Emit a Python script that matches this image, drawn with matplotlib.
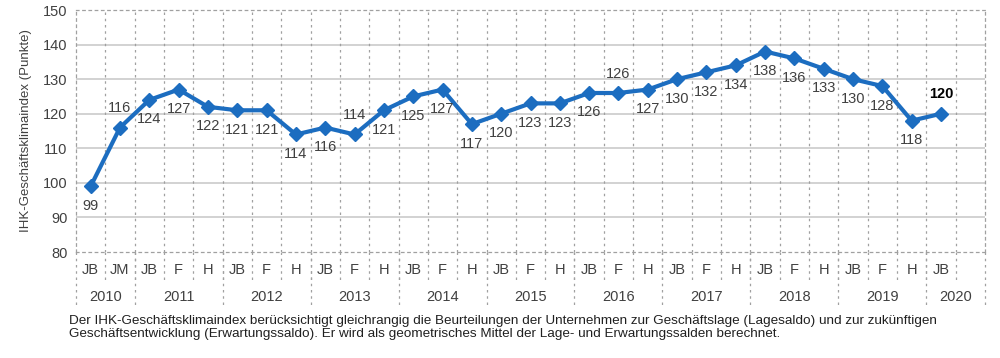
import matplotlib.pyplot as plt
import matplotlib.transforms as mtransforms
import numpy as np

plt.rcParams["font.family"] = ["Liberation Sans", "DejaVu Sans"]

# ---- data ----
periods = ["JB", "JM",
           "JB", "F", "H", "JB", "F", "H", "JB", "F", "H", "JB", "F", "H",
           "JB", "F", "H", "JB", "F", "H", "JB", "F", "H", "JB", "F", "H",
           "JB", "F", "H", "JB"]
years = ["2010", "2011", "2012", "2013", "2014", "2015", "2016",
         "2017", "2018", "2019", "2020"]
periods_per_year = [2, 3, 3, 3, 3, 3, 3, 3, 3, 3, 2]  # 2020 has one empty slot
index_values = [99, 116, 124, 127, 122, 121, 121, 114, 116, 114, 121, 125,
                127, 117, 120, 123, 123, 126, 126, 127, 130, 132, 134, 138,
                136, 133, 130, 128, 118, 120]

labels_above = {1, 9, 18, 29}
footnote = ("Der IHK-Geschäftsklimaindex berücksichtigt gleichrangig die Beurteilungen "
            "der Unternehmen zur Geschäftslage (Lagesaldo) und zur zukünftigen\n"
            "Geschäftsentwicklung (Erwartungssaldo). Er wird als geometrisches Mittel "
            "der Lage- und Erwartungssalden berechnet.")

blue = "#1C6DC0"
grey_txt = "#404040"
n_slots = sum(periods_per_year)

fig = plt.figure(figsize=(10, 3.58), dpi=100)
ax = fig.add_axes([0.076, 0.296, 0.909, 0.676])

x = np.arange(len(index_values))
ax.plot(x, index_values, color=blue, linewidth=3, marker="D", markersize=7,
        markeredgecolor=blue, zorder=3)

for i, v in enumerate(index_values):
    last = i == len(index_values) - 1
    dy = 14 if i in labels_above else -14
    ax.annotate(str(v), (i, v), xytext=(0, dy), textcoords="offset points",
                ha="center", va="center", fontsize=10.5,
                color="black" if last else grey_txt,
                fontweight="bold" if last else "normal")

ax.set_xlim(-0.5, n_slots - 0.5)
ax.set_ylim(80, 150)
ax.set_yticks(np.arange(80, 151, 10))
ax.tick_params(axis="y", length=0, labelsize=10.5, labelcolor=grey_txt, pad=6)
ax.set_xticks([])

# grid: solid horizontal, dotted vertical at slot boundaries
for yv in range(90, 150, 10):
    ax.axhline(yv, color="#CFCFCF", linewidth=1.3, zorder=1)
for b in np.arange(0.5, n_slots - 0.5, 1):
    ax.axvline(b, color="#A0A0A0", linewidth=0.9, linestyle=(0, (2, 3)), zorder=1)
for s in ax.spines.values():
    s.set_color("#A0A0A0")
    s.set_linewidth(0.9)
    s.set_linestyle((0, (2, 3)))

ax.set_ylabel("IHK-Geschäftsklimaindex (Punkte)", fontsize=9.5, color=grey_txt,
              labelpad=8)

# category axis: two rows of labels with dotted separators
trans = mtransforms.blended_transform_factory(ax.transData, ax.transAxes)
row1_y, row2_y = -0.075, -0.186
for i, p in enumerate(periods):
    ax.text(i, row1_y, p, transform=trans, ha="center", va="center",
            fontsize=10.5, color=grey_txt)
    ax.plot([i + 0.5, i + 0.5], [0, -0.13], transform=trans, clip_on=False,
            color="#A0A0A0", linewidth=0.9, linestyle=(0, (2, 3)))

start = 0
bounds = [-0.5]
for yr, cnt in zip(years, periods_per_year):
    ax.text(start + (cnt - 1) / 2, row2_y, yr, transform=trans, ha="center",
            va="center", fontsize=10.5, color=grey_txt)
    start += cnt
    bounds.append(start - 0.5)
for b in bounds:
    ax.plot([b, b], [0, -0.225], transform=trans, clip_on=False,
            color="#A0A0A0", linewidth=0.9, linestyle=(0, (2, 3)))

fig.text(0.069, 0.085, footnote, ha="left", va="center", fontsize=9.7,
         color="#202020", linespacing=1.12)

fig.savefig("out.png", dpi=100)
